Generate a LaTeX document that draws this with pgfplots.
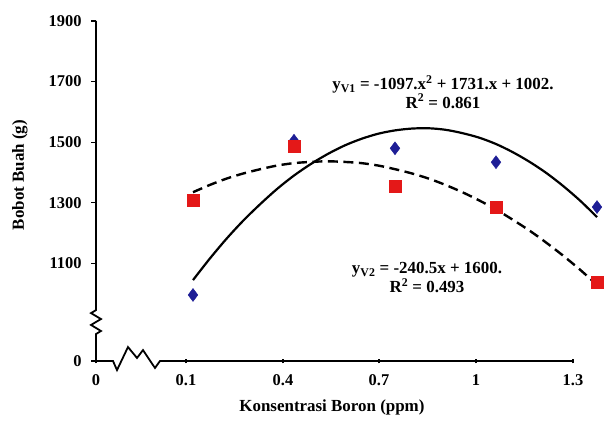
\documentclass[border=0pt]{standalone}
\usepackage{fontspec}
\setmainfont{Liberation Serif}
\usepackage{pgfplots}
\pgfplotsset{compat=1.18}
\definecolor{vred}{RGB}{228,24,24}
\definecolor{vblue}{RGB}{30,30,150}
\begin{document}
\begin{tikzpicture}
\useasboundingbox (0,0) rectangle (605bp,424bp);
\begin{axis}[
  at={(96bp,63bp)}, anchor=south west,
  scale only axis, width=501bp, height=340bp,
  xmin=-0.1881, xmax=1.3, ymin=778, ymax=1900,
  clip=false,
  axis x line*=bottom, axis y line*=left,
  axis line style={draw=none},
  xtick={-0.1881,0.0792,0.3673,0.6524,0.9405,1.2286},
  xticklabels={0,0.1,0.4,0.7,1,1.3},
  ytick={778,1100,1300,1500,1700,1900},
  yticklabels={0,1100,1300,1500,1700,1900},
  tick style={black, line width=1.2bp},
  major tick length=5bp,
  xtick align=center, ytick align=outside,
  tick label style={font=\bfseries\fontsize{16.5}{18}\selectfont},
  xticklabel style={yshift=-8bp},
  yticklabel style={xshift=-6bp},
  label style={font=\bfseries\fontsize{17}{19}\selectfont},
  xlabel={Konsentrasi Boron (ppm)},
  ylabel={Bobot Buah (g)},
  xlabel style={at={(axis description cs:0.471,-0.138)}, anchor=center},
  ylabel style={at={(axis description cs:-0.152,0.547)}, anchor=center, rotate=0},
]
% axis lines with breaks
\draw[black, line width=1.8bp] (axis cs:-0.1881,778) -- (axis cs:-0.1881,867) -- (axis cs:-0.1733,877) -- (axis cs:-0.2029,897) -- (axis cs:-0.1733,916.5) -- (axis cs:-0.2029,936) -- (axis cs:-0.1881,946) -- (axis cs:-0.1881,1900);
\draw[black, line width=1.8bp] (axis cs:-0.1881,778) -- (axis cs:-0.1376,778) -- (axis cs:-0.1257,748) -- (axis cs:-0.0931,824) -- (axis cs:-0.0663,788) -- (axis cs:-0.0485,814) -- (axis cs:-0.0129,755) -- (axis cs:0.002,778) -- (axis cs:1.2286,778);
% data
\addplot[only marks, mark=diamond*, mark size=6.5bp, color=vblue] coordinates {(0.1,996) (0.4,1505) (0.7,1480) (1.0,1434) (1.3,1286)};
\addplot[only marks, mark=square*, mark size=6bp, color=vred] coordinates {(0.1,1309) (0.4,1486) (0.7,1355) (1.0,1285) (1.3,1038)};
\addplot[black, line width=2.2bp, smooth, mark=none] coordinates {
(0.10,1045) (0.15,1116) (0.20,1182) (0.25,1242) (0.30,1296) (0.35,1346) (0.40,1390) (0.45,1428) (0.50,1461) (0.55,1489) (0.60,1511) (0.65,1528) (0.70,1539) (0.75,1545) (0.80,1546) (0.85,1541) (0.90,1530) (0.95,1515) (1.00,1494) (1.05,1467) (1.10,1435) (1.15,1398) (1.20,1355) (1.25,1307) (1.30,1253)};
\addplot[black, line width=2.4bp, smooth, mark=none, dash pattern=on 10bp off 5.5bp] coordinates {
(0.10,1335) (0.15,1359) (0.20,1380) (0.25,1397) (0.30,1411) (0.35,1423) (0.40,1431) (0.45,1435) (0.50,1437) (0.55,1435) (0.60,1431) (0.65,1423) (0.70,1411) (0.75,1397) (0.80,1380) (0.85,1359) (0.90,1335) (0.95,1308) (1.00,1278) (1.05,1244) (1.10,1208) (1.15,1168) (1.20,1125) (1.25,1079) (1.30,1029)};
\node[font=\bfseries\fontsize{17}{17}\selectfont, align=center] at (axis cs:0.8425,1666) {y\textsubscript{V1} = -1097.x\textsuperscript{2} + 1731.x + 1002.\\R\textsuperscript{2} = 0.861};
\node[font=\bfseries\fontsize{17}{15.5}\selectfont, align=center] at (axis cs:0.795,1053) {y\textsubscript{V2} = -240.5x + 1600.\\R\textsuperscript{2} = 0.493};
\end{axis}
\end{tikzpicture}
\end{document}
